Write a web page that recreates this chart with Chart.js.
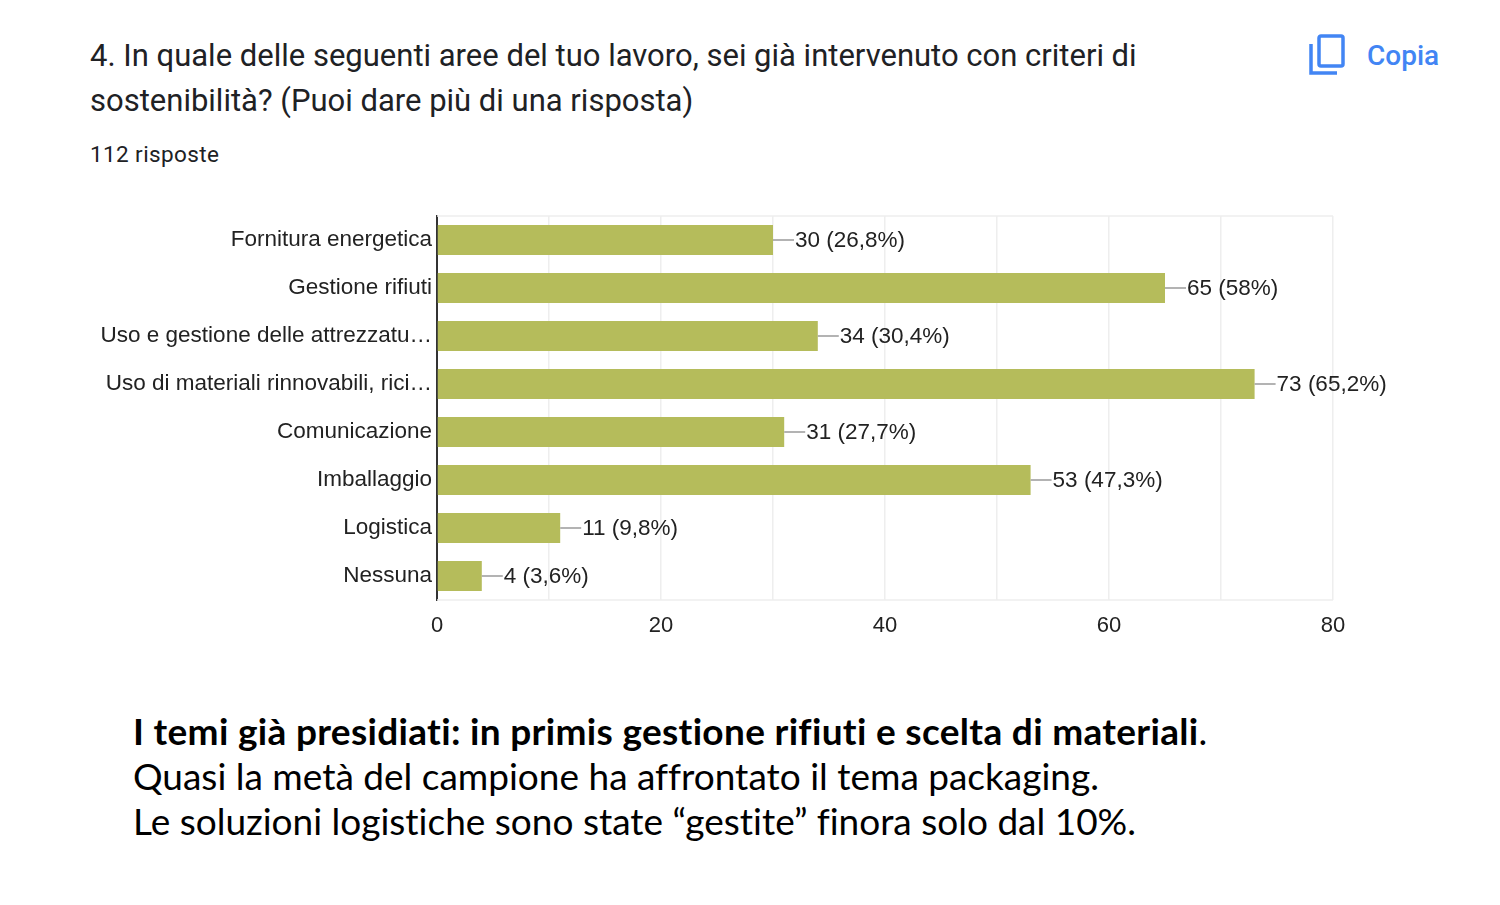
<!DOCTYPE html>
<html>
<head>
<meta charset="utf-8">
<script src="https://cdn.jsdelivr.net/npm/chart.js@4.4.0/dist/chart.umd.min.js"></script>
<style>
  html, body { margin: 0; padding: 0; background: #fff; }
  body { width: 1500px; height: 905px; position: relative; overflow: hidden; }
  .title {
    position: absolute; left: 90px; top: 33px;
    font-family: Roboto, sans-serif; font-size: 31px; line-height: 45px;
    color: #202124; white-space: nowrap;
  }
  .count {
    position: absolute; left: 90px; top: 141px;
    font-family: Roboto, sans-serif; font-size: 22.5px; color: #202124; letter-spacing: 0.4px;
  }
  .copy {
    position: absolute; left: 1308px; top: 32px; height: 46px;
    display: flex; align-items: center;
    font-family: Roboto, sans-serif; font-size: 28px; font-weight: 500; color: #4285f4;
  }
  .copy svg { margin-right: 21px; }
  #wrap { position: absolute; left: 0; top: 180px; width: 1500px; height: 480px; }
  .note {
    position: absolute; left: 133px; top: 708px;
    font-family: Lato, sans-serif; font-size: 37px; line-height: 45px; color: #000;
    font-variant-ligatures: none; white-space: nowrap;
  }
  .note b { font-weight: 700; letter-spacing: 0.32px; }
</style>
</head>
<body>
<div class="title">4. In quale delle seguenti aree del tuo lavoro, sei già intervenuto con criteri di<br>sostenibilità? (Puoi dare più di una risposta)</div>
<div class="count">112 risposte</div>
<div class="copy">
  <svg width="38" height="42" viewBox="0 0 38 42">
    <path d="M3 10 V39 H29" fill="none" stroke="#4285f4" stroke-width="3.5"/>
    <rect x="11" y="2" width="24" height="30" rx="2" fill="none" stroke="#4285f4" stroke-width="3.5"/>
  </svg>
  Copia
</div>
<div id="wrap"><canvas id="chart"></canvas></div>
<div class="note"><b>I temi già presidiati: in primis gestione rifiuti e scelta di materiali</b>.<br>Quasi la metà del campione ha affrontato il tema packaging.<br>Le soluzioni logistiche sono state “gestite” finora solo dal 10%.</div>

<script>
// dati del grafico
const categories = [
    'Fornitura energetica',
    'Gestione rifiuti',
    'Uso e gestione delle attrezzatu\u2026',
    'Uso di materiali rinnovabili, rici\u2026',
    'Comunicazione',
    'Imballaggio',
    'Logistica',
    'Nessuna'
];
const responses = [30, 65, 34, 73, 31, 53, 11, 4];
const pctLabels = ['26,8%', '58%', '30,4%', '65,2%', '27,7%', '47,3%', '9,8%', '3,6%'];
const xTicks = [0, 20, 40, 60, 80];

const textColor = '#222222';
const barColor = '#b5bc5b';
const labelFont = '"Liberation Sans", Arial, sans-serif';

// etichette con linea guida a destra delle barre
const valueLabels = {
    id: 'valueLabels',
    afterDatasetsDraw(chart) {
        const ctx = chart.ctx;
        const meta = chart.getDatasetMeta(0);
        ctx.save();
        ctx.font = '22.5px ' + labelFont;
        ctx.textBaseline = 'middle';
        meta.data.forEach((bar, i) => {
            const x = bar.x;
            const y = bar.y;
            ctx.strokeStyle = '#9a9a9a';
            ctx.lineWidth = 1.5;
            ctx.beginPath();
            ctx.moveTo(x, y);
            ctx.lineTo(x + 21, y);
            ctx.stroke();
            ctx.fillStyle = textColor;
            ctx.fillText(responses[i] + ' (' + pctLabels[i] + ')', x + 22, y + 1);
        });
        ctx.restore();
    }
};

new Chart(document.getElementById('chart').getContext('2d'), {
    type: 'bar',
    data: {
        labels: categories,
        datasets: [{
            data: responses,
            backgroundColor: barColor,
            borderWidth: 0,
            categoryPercentage: 1,
            barPercentage: 0.625
        }]
    },
    options: {
        indexAxis: 'y',
        responsive: true,
        maintainAspectRatio: false,
        animation: false,
        layout: { padding: { top: 36, right: 167, left: 0, bottom: 0 } },
        plugins: {
            legend: { display: false },
            tooltip: { enabled: false }
        },
        scales: {
            x: {
                min: 0,
                max: 80,
                afterFit(scale) { scale.height = 60; },
                afterBuildTicks(scale) {
                    scale.ticks = [];
                    for (let v = 0; v <= 80; v += 10) scale.ticks.push({ value: v });
                },
                ticks: {
                    padding: 13,
                    color: textColor,
                    font: { family: labelFont, size: 22 },
                    callback: (v) => xTicks.includes(v) ? String(v) : ''
                },
                grid: { color: '#eeeeee', lineWidth: 1.5, drawTicks: false },
                border: { display: false }
            },
            y: {
                afterFit(scale) { scale.width = 437; },
                ticks: {
                    padding: 5,
                    color: textColor,
                    font: { family: labelFont, size: 22.5 }
                },
                grid: { display: false, drawTicks: false },
                border: { display: true, color: '#333333', width: 2 }
            }
        }
    },
    plugins: [valueLabels, {
        id: 'frame',
        beforeDatasetsDraw(chart) {
            // linee orizzontali sopra e sotto l'area del grafico
            const a = chart.chartArea;
            const ctx = chart.ctx;
            ctx.save();
            ctx.strokeStyle = '#eeeeee';
            ctx.lineWidth = 1.5;
            ctx.beginPath();
            ctx.moveTo(a.left, a.top); ctx.lineTo(a.right, a.top);
            ctx.moveTo(a.left, a.bottom); ctx.lineTo(a.right, a.bottom);
            ctx.stroke();
            ctx.restore();
        }
    }]
});
</script>
</body>
</html>
